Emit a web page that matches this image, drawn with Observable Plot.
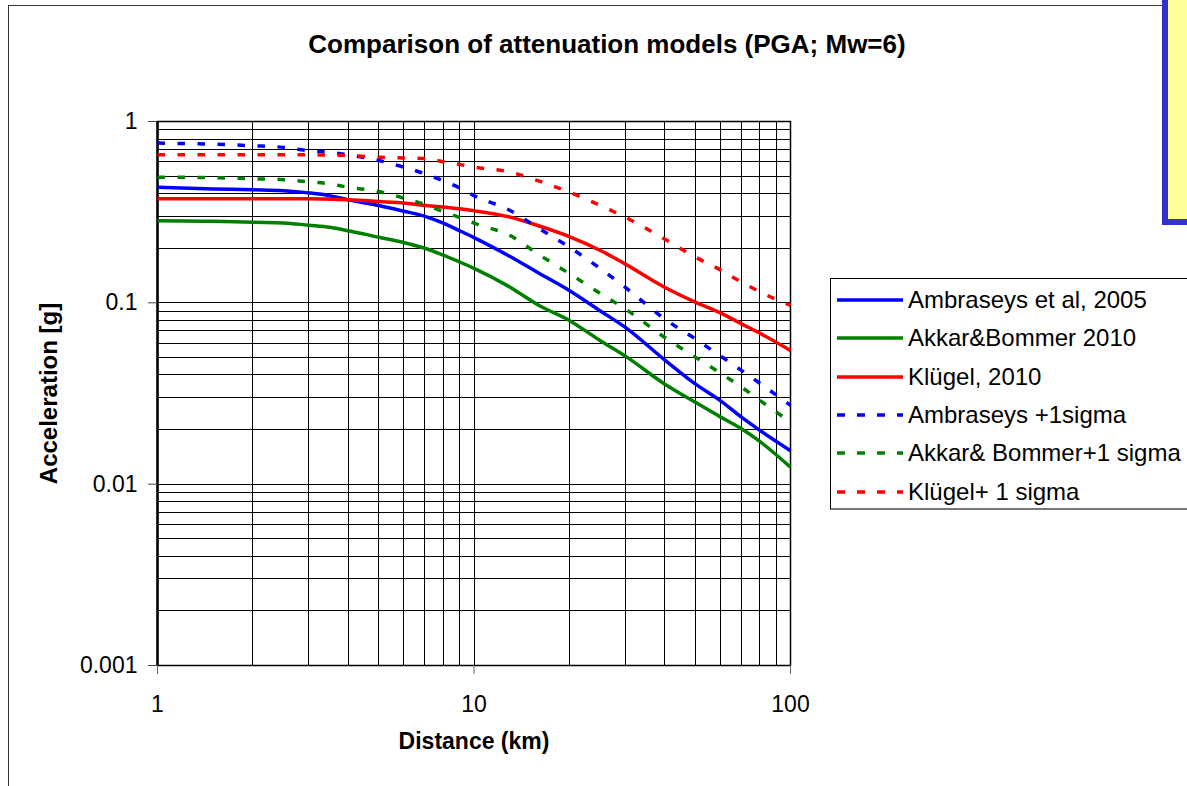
<!DOCTYPE html>
<html><head><meta charset="utf-8">
<script src="https://cdn.jsdelivr.net/npm/d3@7"></script>
<script src="https://cdn.jsdelivr.net/npm/@observablehq/plot@0.6"></script>
<style>
body{margin:0;background:#fff;font-family:"Liberation Sans",Arial,sans-serif;}
#wrap{position:relative;width:1187px;height:786px;overflow:hidden;background:#fff;}
#frame{position:absolute;left:8px;top:5px;width:1400px;height:1000px;border-left:1.5px solid #333;border-top:1.5px solid #333;}
#chart{position:absolute;left:0;top:0;}
#note{position:absolute;left:1162px;top:-20px;width:100px;height:233px;background:#ffff99;border:6px solid #3333cc;}
#legend{position:absolute;left:830px;top:278px;width:400px;height:229px;border:1px solid #000;border-bottom:2px solid #777;background:#fff;}
.row{position:absolute;left:0;height:30px;display:flex;align-items:center;font-size:24px;white-space:nowrap;color:#000;}
.row svg{width:77px;height:30px;flex:none;}
</style></head>
<body>
<div id="wrap">
  <div id="frame"></div>
  <div id="chart"></div>
  <div id="note"></div>
  <div id="legend"></div>
</div>
<script>
// ---- data ----
const titleText = "Comparison of attenuation models (PGA; Mw=6)";
const xLabel = "Distance (km)";
const yLabel = "Acceleration [g]";

const distances = [1, 1.5, 2, 2.5, 3, 3.5, 4, 5, 6, 7, 8, 9, 10, 13, 16, 20, 25, 30, 40, 50, 60, 70, 80, 100];

const ambraseys      = [0.434,0.425,0.42,0.415,0.404,0.39,0.37,0.344,0.32,0.30,0.275,0.25,0.229,0.18,0.146,0.117,0.0905,0.0734,0.0485,0.0357,0.0289,0.0234,0.0198,0.0153];
const akkar          = [0.284,0.282,0.278,0.276,0.268,0.261,0.25,0.23,0.215,0.2,0.183,0.168,0.155,0.122,0.097,0.08,0.062,0.051,0.0357,0.0283,0.0235,0.0202,0.0172,0.0124];
const klugel         = [0.375,0.375,0.375,0.375,0.375,0.373,0.37,0.362,0.355,0.344,0.338,0.33,0.322,0.297,0.266,0.232,0.195,0.164,0.122,0.101,0.088,0.0766,0.068,0.0546];
const ambraseysSigma = [0.76,0.75,0.735,0.72,0.69,0.677,0.655,0.61,0.56,0.515,0.47,0.43,0.39,0.323,0.258,0.203,0.155,0.122,0.0816,0.0633,0.051,0.0424,0.036,0.0272];
const akkarSigma     = [0.493,0.49,0.483,0.478,0.465,0.453,0.434,0.411,0.378,0.349,0.318,0.296,0.275,0.235,0.185,0.145,0.113,0.0927,0.0646,0.0502,0.041,0.0343,0.029,0.022];
const klugelSigma    = [0.655,0.655,0.655,0.655,0.655,0.652,0.65,0.635,0.63,0.625,0.6,0.58,0.56,0.526,0.47,0.408,0.345,0.297,0.225,0.179,0.152,0.13,0.115,0.0967];

const seriesNames  = ["Ambraseys et al, 2005", "Akkar&Bommer 2010", "Klügel, 2010", "Ambraseys +1sigma", "Akkar& Bommer+1 sigma", "Klügel+ 1 sigma"];
const seriesValues = [ambraseys, akkar, klugel, ambraseysSigma, akkarSigma, klugelSigma];
const seriesColors = ["#0000ff", "#008000", "#ff0000", "#0000ff", "#008000", "#ff0000"];
const seriesDashed = [false, false, false, true, true, true];

const xTicks = [1, 10, 100];
const xTickLabels = ["1", "10", "100"];
const yTicks = [1, 0.1, 0.01, 0.001];
const yTickLabels = ["1", "0.1", "0.01", "0.001"];
const gridX = [1,2,3,4,5,6,7,8,9,10,20,30,40,50,60,70,80,90,100];
const gridY = [0.001,0.002,0.003,0.004,0.005,0.006,0.007,0.008,0.009,
               0.01,0.02,0.03,0.04,0.05,0.06,0.07,0.08,0.09,
               0.1,0.2,0.3,0.4,0.5,0.6,0.7,0.8,0.9,1];

// ---- build ----
const dash = "7.5,12.5";
const lineMarks = seriesNames.map((name, k) => {
  const rows = distances.map((d, i) => ({series: name, x: d, y: seriesValues[k][i]}));
  return Plot.line(rows, {
    x: "x", y: "y",
    stroke: seriesColors[k],
    strokeWidth: 3.5,
    strokeDasharray: seriesDashed[k] ? dash : null,
    strokeLinecap: "butt",
    curve: "monotone-x"
  });
});

const chart = Plot.plot({
  width: 1187,
  height: 786,
  marginLeft: 157,
  marginRight: 397,
  marginTop: 121,
  marginBottom: 121,
  style: {fontFamily: "'Liberation Sans', Arial, sans-serif", fontSize: "23px", color: "#000", background: "transparent", overflow: "visible"},
  x: {type: "log", domain: [1, 100]},
  y: {type: "log", domain: [0.001, 1]},
  marks: [
    Plot.ruleX(gridX, {stroke: "#000", strokeWidth: 1, shapeRendering: "crispEdges"}),
    Plot.ruleY(gridY, {stroke: "#000", strokeWidth: 1, shapeRendering: "crispEdges"}),
    Plot.frame({stroke: "#000", strokeWidth: 1.5}),
    Plot.ruleX([1], {stroke: "#000", strokeWidth: 2.5}),
    ...lineMarks,
    Plot.axisY({ticks: yTicks, tickFormat: d => yTickLabels[yTicks.indexOf(d)], tickSize: 9, tickPadding: 11, fontSize: 23, label: null, stroke: "#444"}),
    Plot.axisX({ticks: xTicks, tickFormat: d => xTickLabels[xTicks.indexOf(d)], tickSize: 9, tickPadding: 21, fontSize: 23, label: null, stroke: "#666"}),
    Plot.text([titleText], {text: d => d, frameAnchor: "top", lineAnchor: "middle", dx: 133, dy: -77, fontSize: 26, fontWeight: "bold"}),
    Plot.text([xLabel], {text: d => d, frameAnchor: "bottom", lineAnchor: "middle", dy: 76, fontSize: 23, fontWeight: "bold"}),
    Plot.text([yLabel], {text: d => d, frameAnchor: "left", textAnchor: "middle", lineAnchor: "middle", dx: -108, rotate: -90, fontSize: 24, fontWeight: "bold"})
  ]
});
document.getElementById("chart").appendChild(chart);

// ---- legend ----
const legend = document.getElementById("legend");
const rowCenters = [21, 59.3, 97.7, 136, 174.3, 212.7];
seriesNames.forEach((name, k) => {
  const row = document.createElement("div");
  row.className = "row";
  row.style.top = (rowCenters[k] - 15) + "px";
  const ns = "http://www.w3.org/2000/svg";
  const svg = document.createElementNS(ns, "svg");
  const ln = document.createElementNS(ns, "line");
  ln.setAttribute("x1", 6); ln.setAttribute("x2", 72);
  ln.setAttribute("y1", 15); ln.setAttribute("y2", 15);
  ln.setAttribute("stroke", seriesColors[k]);
  ln.setAttribute("stroke-width", 3.5);
  if (seriesDashed[k]) ln.setAttribute("stroke-dasharray", "8,12");
  svg.appendChild(ln);
  const span = document.createElement("span");
  span.textContent = name;
  row.appendChild(svg);
  row.appendChild(span);
  legend.appendChild(row);
});
</script>
</body></html>
